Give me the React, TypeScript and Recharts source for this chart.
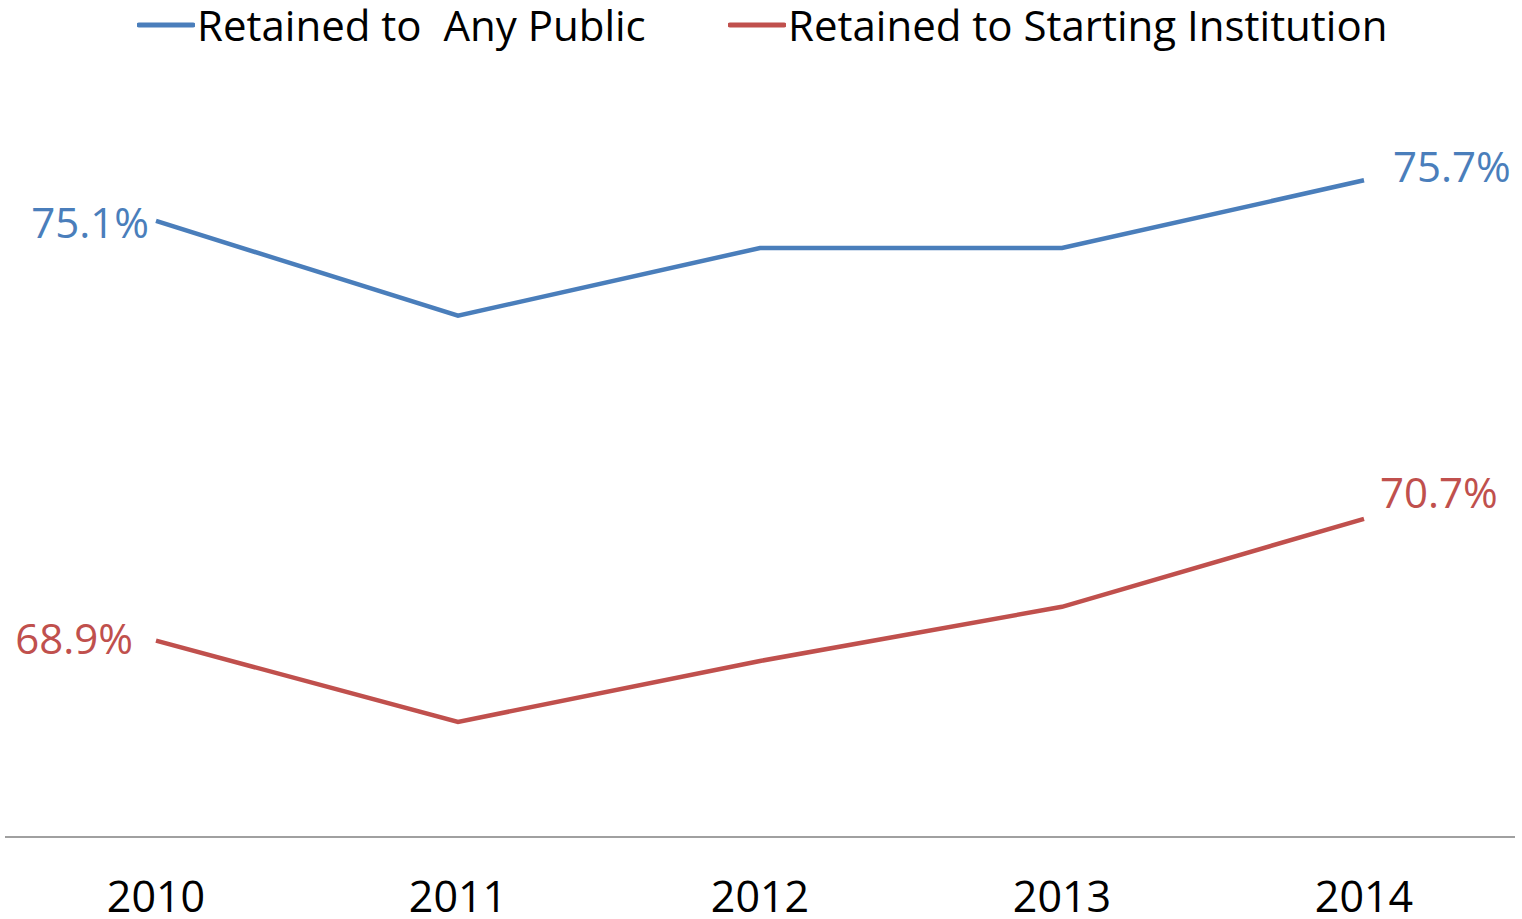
import React from 'react';
import { LineChart, Line, XAxis, YAxis, Legend } from 'recharts';

const years = ['2010', '2011', '2012', '2013', '2014'];
const anyPublic = [75.1, 73.7, 74.7, 74.7, 75.7];
const startingInst = [68.9, 67.7, 68.6, 69.4, 70.7];
const seriesNames = ['Retained to  Any Public', 'Retained to Starting Institution'];
const yDomain = [66, 76];

const BLUE = '#4a7ebb';
const RED = '#c0504d';
const FONT = '"Open Sans", "Noto Sans", sans-serif';
const FS = 42;

const data = years.map((y, i) => ({ year: y, anyPublic: anyPublic[i], startingInst: startingInst[i] }));

const labelOffsets: Record<string, { first: [number, number]; last: [number, number] }> = {
  anyPublic: { first: [-7, 1], last: [29, -15] },
  startingInst: { first: [-23, -3], last: [16, -27] },
};

const makeLabel = (key: string, color: string) => (props: any) => {
  const { x, y, value, index } = props;
  const last = years.length - 1;
  if (index !== 0 && index !== last) return null;
  const off = index === 0 ? labelOffsets[key].first : labelOffsets[key].last;
  return (
    <text
      key={`${key}-${index}`}
      x={x + off[0]}
      y={y + off[1]}
      textAnchor={index === 0 ? 'end' : 'start'}
      dominantBaseline="central"
      fill={color}
      fontFamily={FONT}
      fontSize={FS}
    >
      {`${Number(value).toFixed(1)}%`}
    </text>
  );
};

const XTick = (props: any) => {
  const { x, payload } = props;
  return (
    <text x={x} y={912} textAnchor="middle" fill="#000" fontFamily={FONT} fontSize={43}>
      {payload.value}
    </text>
  );
};

const LegendContent = () => {
  const items = [
    { name: seriesNames[0], color: BLUE, left: 137 },
    { name: seriesNames[1], color: RED, left: 728 },
  ];
  return (
    <div style={{ position: 'relative', width: 1522, height: 56 }}>
      {items.map((it) => (
        <div key={it.name} style={{ position: 'absolute', left: it.left, top: 0, display: 'flex', alignItems: 'center', height: 50 }}>
          <svg width={58} height={10} style={{ display: 'block' }}>
            <line x1={2} y1={5} x2={56} y2={5} stroke={it.color} strokeWidth={5} strokeLinecap="round" />
          </svg>
          <span style={{ fontFamily: FONT, fontSize: FS, color: '#000', whiteSpace: 'pre', lineHeight: '50px', marginLeft: 2 }}>
            {it.name}
          </span>
        </div>
      ))}
    </div>
  );
};

export default function App() {
  return (
    <div style={{ position: 'absolute', left: 0, top: 0, width: 1522, height: 919, background: '#fff' }}>
      <LineChart width={1522} height={919} data={data} margin={{ top: 160, right: 7, bottom: 0, left: 5 }}>
        <XAxis
          dataKey="year"
          padding={{ left: 151, right: 151 }}
          axisLine={{ stroke: '#a0a0a0', strokeWidth: 2 }}
          tickLine={false}
          height={82}
          tick={<XTick />}
          interval={0}
        />
        <YAxis hide domain={yDomain} />
        <Legend
          layout="horizontal"
          verticalAlign="middle"
          align="center"
          wrapperStyle={{ top: 0, left: 0, width: 1522 }}
          content={<LegendContent />}
        />
        <Line
          dataKey="anyPublic"
          name={seriesNames[0]}
          stroke={BLUE}
          strokeWidth={4.5}
          dot={false}
          activeDot={false}
          isAnimationActive={false}
          label={makeLabel('anyPublic', BLUE)}
        />
        <Line
          dataKey="startingInst"
          name={seriesNames[1]}
          stroke={RED}
          strokeWidth={4.5}
          dot={false}
          activeDot={false}
          isAnimationActive={false}
          label={makeLabel('startingInst', RED)}
        />
      </LineChart>
    </div>
  );
}
